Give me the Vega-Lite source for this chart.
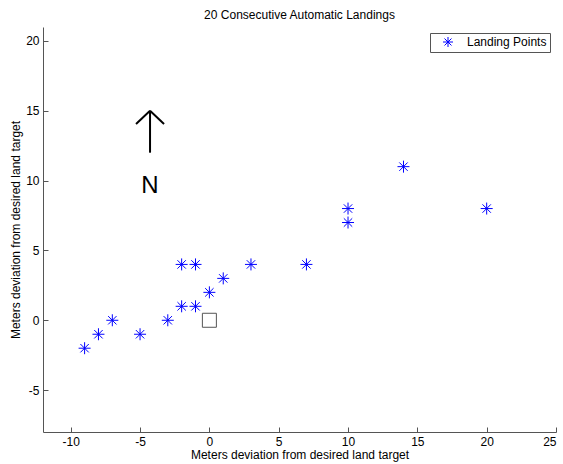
{
  "$schema": "https://vega.github.io/schema/vega-lite/v6.json",
  "width": 513,
  "height": 405,
  "autosize": {"type": "none"},
  "padding": {"left": 43, "top": 27, "right": 7, "bottom": 32},
  "background": "white",
  "title": {"text": "20 Consecutive Automatic Landings", "fontSize": 12, "fontWeight": "normal", "font": "Liberation Sans", "color": "black", "offset": 5},
  "config": {
    "view": {"stroke": null},
    "font": "Liberation Sans",
    "axis": {"grid": false, "domainColor": "#555", "tickColor": "#555", "labelFontSize": 12, "labelColor": "black", "titleFontSize": 12, "titleFontWeight": "normal", "titleColor": "black", "labelFont": "Liberation Sans", "titleFont": "Liberation Sans", "labelExpr": "'' + datum.value"}
  },
  "layer": [
    {
      "data": {"values": [
        {"x": -9, "y": -2, "series": "Landing Points"},
        {"x": -8, "y": -1, "series": "Landing Points"},
        {"x": -7, "y": 0, "series": "Landing Points"},
        {"x": -5, "y": -1, "series": "Landing Points"},
        {"x": -3, "y": 0, "series": "Landing Points"},
        {"x": -2, "y": 1, "series": "Landing Points"},
        {"x": -1, "y": 1, "series": "Landing Points"},
        {"x": 0, "y": 2, "series": "Landing Points"},
        {"x": 1, "y": 3, "series": "Landing Points"},
        {"x": -2, "y": 4, "series": "Landing Points"},
        {"x": -1, "y": 4, "series": "Landing Points"},
        {"x": 3, "y": 4, "series": "Landing Points"},
        {"x": 7, "y": 4, "series": "Landing Points"},
        {"x": 10, "y": 7, "series": "Landing Points"},
        {"x": 10, "y": 8, "series": "Landing Points"},
        {"x": 14, "y": 11, "series": "Landing Points"},
        {"x": 20, "y": 8, "series": "Landing Points"}
      ]},
      "mark": {"type": "point", "filled": false, "shape": "M-1,0L1,0M0,-1L0,1M-0.7,-0.7L0.7,0.7M-0.7,0.7L0.7,-0.7", "size": 144, "strokeWidth": 1, "opacity": 1},
      "encoding": {
        "x": {"field": "x", "type": "quantitative", "scale": {"domain": [-12, 25], "nice": false, "zero": false},
              "axis": {"values": [-10, -5, 0, 5, 10, 15, 20, 25], "title": "Meters deviation from desired land target", "tickSize": -5, "labelPadding": 9, "titlePadding": 2}},
        "y": {"field": "y", "type": "quantitative", "scale": {"domain": [-8, 21], "nice": false, "zero": false},
              "axis": {"values": [-5, 0, 5, 10, 15, 20], "title": "Meters deviation from desired land target", "tickSize": -5, "labelPadding": 9, "titlePadding": 3}},
        "color": {"field": "series", "type": "nominal", "scale": {"range": ["#0000ff"]},
                  "legend": {"orient": "none", "legendX": 387, "legendY": 6, "title": null, "strokeColor": "#555", "fillColor": "white", "padding": 3, "symbolType": "M-1,0L1,0M0,-1L0,1M-0.7,-0.7L0.7,0.7M-0.7,0.7L0.7,-0.7", "symbolSize": 100, "symbolStrokeColor": "#0000ff", "symbolStrokeWidth": 1, "labelFontSize": 12, "labelColor": "black", "labelFont": "Liberation Sans", "symbolOffset": 9, "labelOffset": 13, "labelExpr": "datum.label + '\u00a0\u00a0'"}}
      }
    },
    {
      "data": {"values": [{"x": 0, "y": 0}]},
      "mark": {"type": "point", "shape": "square", "filled": false, "size": 196, "stroke": "#555", "strokeWidth": 1, "opacity": 1},
      "encoding": {
        "x": {"field": "x", "type": "quantitative"},
        "y": {"field": "y", "type": "quantitative"}
      }
    },
    {
      "data": {"values": [
        {"x": -4.28, "y": 12, "x2": -4.28, "y2": 15},
        {"x": -4.28, "y": 15, "x2": -5.29, "y2": 14.06},
        {"x": -4.28, "y": 15, "x2": -3.27, "y2": 14.06}
      ]},
      "mark": {"type": "rule", "color": "black", "strokeWidth": 2},
      "encoding": {
        "x": {"field": "x", "type": "quantitative"},
        "y": {"field": "y", "type": "quantitative"},
        "x2": {"field": "x2"},
        "y2": {"field": "y2"}
      }
    },
    {
      "data": {"values": [{"x": -4.28, "y": 9.6, "label": "N"}]},
      "mark": {"type": "text", "fontSize": 24, "font": "Liberation Sans", "color": "black", "baseline": "middle", "align": "center"},
      "encoding": {
        "x": {"field": "x", "type": "quantitative"},
        "y": {"field": "y", "type": "quantitative"},
        "text": {"field": "label"}
      }
    }
  ]
}
